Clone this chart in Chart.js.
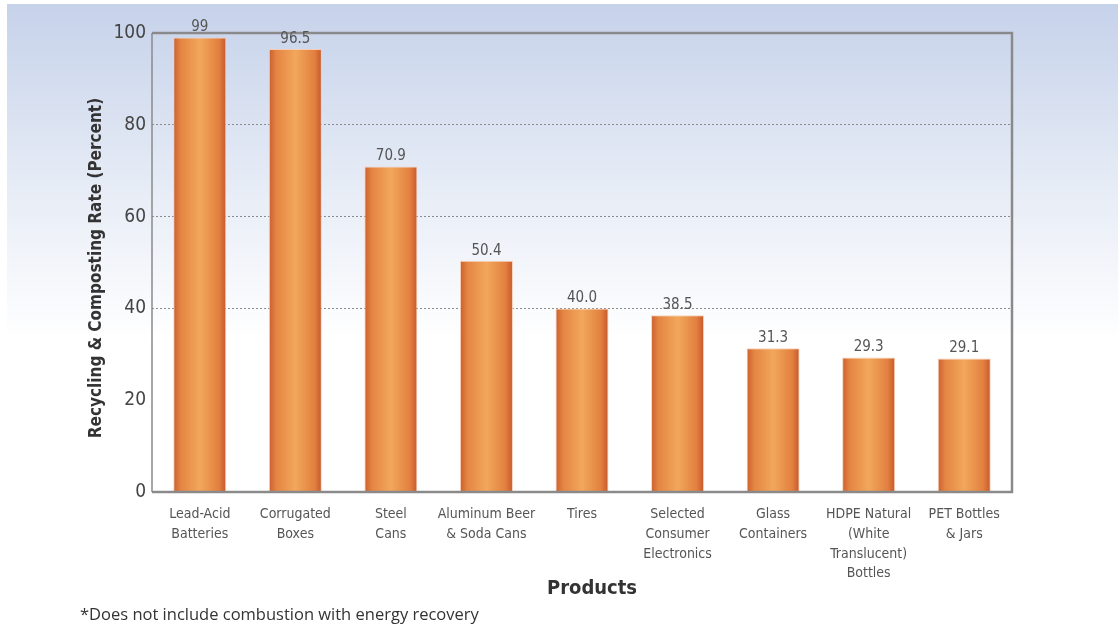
<!DOCTYPE html>
<html>
<head>
<meta charset="utf-8">
<script src="https://cdn.jsdelivr.net/npm/chart.js@4.4.1/dist/chart.umd.min.js"></script>
<style>
    html, body { margin: 0; padding: 0; background: #ffffff; }
    #wrap { width: 1118px; height: 628px; position: relative; }
</style>
</head>
<body>
<div id="wrap"><canvas id="chart" width="1118" height="628"></canvas></div>
<script>
const categories = [
    ["Lead-Acid", "Batteries"],
    ["Corrugated", "Boxes"],
    ["Steel", "Cans"],
    ["Aluminum Beer", "& Soda Cans"],
    ["Tires"],
    ["Selected", "Consumer", "Electronics"],
    ["Glass", "Containers"],
    ["HDPE Natural", "(White", "Translucent)", "Bottles"],
    ["PET Bottles", "& Jars"]
];
const rates = [99, 96.5, 70.9, 50.4, 40.0, 38.5, 31.3, 29.3, 29.1];
const rateLabels = ["99", "96.5", "70.9", "50.4", "40.0", "38.5", "31.3", "29.3", "29.1"];
const yTicks = [0, 20, 40, 60, 80, 100];
const dottedLines = [40, 60, 80];

const yTitle = "Recycling & Composting Rate (Percent)";
const xTitle = "Products";
const footnote = "*Does not include combustion with energy recovery";

const condensed = '"DejaVu Sans Condensed", "Liberation Sans Narrow", "Open Sans", sans-serif';

function barFill(c) {
    const chart = c.chart;
    if (!chart.chartArea) return "#e88a45";
    const xs = chart.scales.x;
    const cx = xs.getPixelForValue(c.dataIndex);
    const w = (xs.width / categories.length) * 0.555;
    const g = chart.ctx.createLinearGradient(cx - w / 2, 0, cx + w / 2, 0);
    g.addColorStop(0, "#cb5d2e");
    g.addColorStop(0.14, "#e48543");
    g.addColorStop(0.5, "#f2a75c");
    g.addColorStop(0.86, "#e2803f");
    g.addColorStop(1, "#c6572b");
    return g;
}

const backdrop = {
    id: "backdrop",
    beforeDraw(chart) {
        const ctx = chart.ctx;
        const g = ctx.createLinearGradient(0, 4, 0, 340);
        g.addColorStop(0, "#c6d2ea");
        g.addColorStop(0.5, "#e4eaf5");
        g.addColorStop(1, "#ffffff");
        ctx.save();
        ctx.fillStyle = "#ffffff";
        ctx.fillRect(0, 0, chart.width, chart.height);
        ctx.fillStyle = g;
        ctx.fillRect(7, 4, chart.width - 7, chart.height - 4);
        ctx.restore();
    }
};

const frame = {
    id: "frame",
    afterDatasetsDraw(chart) {
        const ctx = chart.ctx;
        const a = chart.chartArea;
        ctx.save();
        ctx.strokeStyle = "#8a8a8a";
        ctx.lineWidth = 2.5;
        ctx.beginPath();
        ctx.moveTo(a.left, a.top);
        ctx.lineTo(a.right, a.top);
        ctx.lineTo(a.right, a.bottom);
        ctx.lineTo(a.left, a.bottom);
        ctx.stroke();
        ctx.lineWidth = 1.5;
        ctx.beginPath();
        ctx.moveTo(a.left, a.top);
        ctx.lineTo(a.left, a.bottom);
        ctx.stroke();

        // value labels above bars
        const meta = chart.getDatasetMeta(0);
        ctx.fillStyle = "#555555";
        ctx.font = "15px " + condensed;
        ctx.textAlign = "center";
        ctx.textBaseline = "middle";
        meta.data.forEach((bar, i) => {
            ctx.fillText(rateLabels[i], bar.x, bar.y - 10);
        });

        // titles and footnote
        ctx.fillStyle = "#333333";
        ctx.font = "bold 20px " + condensed;
        ctx.fillText(xTitle, 592, 589);
        ctx.save();
        ctx.translate(97, 268);
        ctx.rotate(-Math.PI / 2);
        ctx.font = "bold 17px " + condensed;
        ctx.fillText(yTitle, 0, 0);
        ctx.restore();
        ctx.textAlign = "left";
        ctx.font = '16.5px "Open Sans", sans-serif';
        ctx.fillText(footnote, 80, 615);
        ctx.restore();
    }
};

new Chart(document.getElementById("chart"), {
    type: "bar",
    data: {
        labels: categories,
        datasets: [{
            data: rates,
            backgroundColor: barFill,
            borderColor: "rgba(248, 205, 180, 0.9)",
            borderWidth: 1,
            barPercentage: 0.555,
            categoryPercentage: 1.0
        }]
    },
    options: {
        responsive: false,
        animation: false,
        devicePixelRatio: 1,
        layout: { padding: { left: 0, right: 106, top: 33, bottom: 0 } },
        plugins: {
            legend: { display: false },
            tooltip: { enabled: false }
        },
        scales: {
            x: {
                grid: { display: false },
                border: { display: false },
                ticks: {
                    color: "#555555",
                    font: { family: condensed, size: 14, lineHeight: 1.4 },
                    padding: 5,
                    maxRotation: 0,
                    autoSkip: false
                },
                afterFit(scale) { scale.height = 136; }
            },
            y: {
                min: 0,
                max: 100,
                afterBuildTicks(scale) { scale.ticks = yTicks.map(v => ({ value: v })); },
                grid: {
                    drawTicks: false,
                    color: c => dottedLines.includes(c.tick.value) ? "#8c8c8c" : "rgba(0,0,0,0)",
                    lineWidth: 1
                },
                border: { display: false, dash: [2, 2] },
                ticks: {
                    color: "#444444",
                    font: { family: condensed, size: 19 },
                    padding: 6
                },
                afterFit(scale) { scale.width = 152; }
            }
        }
    },
    plugins: [backdrop, frame]
});
</script>
</body>
</html>
